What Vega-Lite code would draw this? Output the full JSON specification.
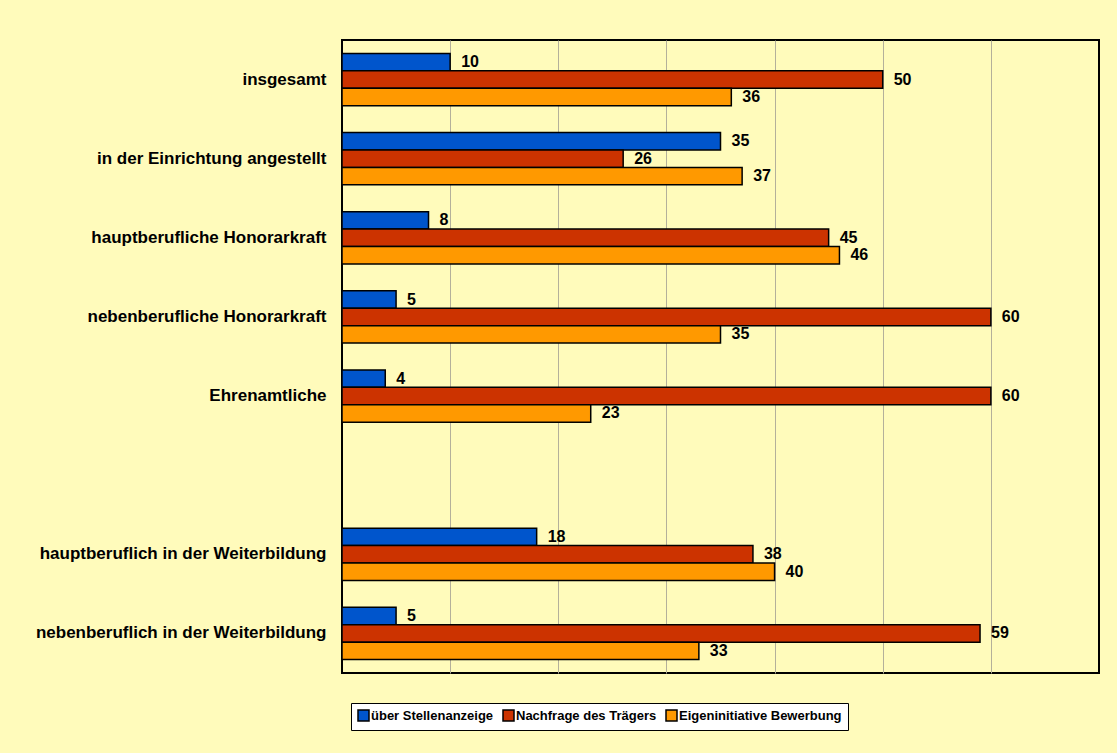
{
  "$schema": "https://vega.github.io/schema/vega-lite/v6.json",
  "width": 757,
  "height": 633,
  "autosize": {"type": "none"},
  "padding": {"left": 342, "top": 40, "right": 18, "bottom": 80},
  "background": "#FFFBBB",
  "data": {
    "values": [
      {"group": "insgesamt", "series": "über Stellenanzeige", "value": 10},
      {"group": "insgesamt", "series": "Nachfrage des Trägers", "value": 50},
      {"group": "insgesamt", "series": "Eigeninitiative Bewerbung", "value": 36},
      {"group": "in der Einrichtung angestellt", "series": "über Stellenanzeige", "value": 35},
      {"group": "in der Einrichtung angestellt", "series": "Nachfrage des Trägers", "value": 26},
      {"group": "in der Einrichtung angestellt", "series": "Eigeninitiative Bewerbung", "value": 37},
      {"group": "hauptberufliche Honorarkraft", "series": "über Stellenanzeige", "value": 8},
      {"group": "hauptberufliche Honorarkraft", "series": "Nachfrage des Trägers", "value": 45},
      {"group": "hauptberufliche Honorarkraft", "series": "Eigeninitiative Bewerbung", "value": 46},
      {"group": "nebenberufliche Honorarkraft", "series": "über Stellenanzeige", "value": 5},
      {"group": "nebenberufliche Honorarkraft", "series": "Nachfrage des Trägers", "value": 60},
      {"group": "nebenberufliche Honorarkraft", "series": "Eigeninitiative Bewerbung", "value": 35},
      {"group": "Ehrenamtliche", "series": "über Stellenanzeige", "value": 4},
      {"group": "Ehrenamtliche", "series": "Nachfrage des Trägers", "value": 60},
      {"group": "Ehrenamtliche", "series": "Eigeninitiative Bewerbung", "value": 23},
      {"group": "hauptberuflich in der Weiterbildung", "series": "über Stellenanzeige", "value": 18},
      {"group": "hauptberuflich in der Weiterbildung", "series": "Nachfrage des Trägers", "value": 38},
      {"group": "hauptberuflich in der Weiterbildung", "series": "Eigeninitiative Bewerbung", "value": 40},
      {"group": "nebenberuflich in der Weiterbildung", "series": "über Stellenanzeige", "value": 5},
      {"group": "nebenberuflich in der Weiterbildung", "series": "Nachfrage des Trägers", "value": 59},
      {"group": "nebenberuflich in der Weiterbildung", "series": "Eigeninitiative Bewerbung", "value": 33}
    ]
  },
  "encoding": {
    "y": {
      "field": "group",
      "type": "nominal",
      "scale": {
        "domain": ["insgesamt", "in der Einrichtung angestellt", "hauptberufliche Honorarkraft", "nebenberufliche Honorarkraft", "Ehrenamtliche", " ", "hauptberuflich in der Weiterbildung", "nebenberuflich in der Weiterbildung"],
        "paddingInner": 0.34,
        "paddingOuter": 0.17
      },
      "axis": {
        "title": null,
        "ticks": false,
        "domain": false,
        "labelFont": "Liberation Sans",
        "labelFontSize": 17,
        "labelFontWeight": "bold",
        "labelColor": "black",
        "labelPadding": 16,
        "labelLimit": 400
      }
    },
    "yOffset": {
      "field": "series",
      "type": "nominal",
      "scale": {"domain": ["über Stellenanzeige", "Nachfrage des Trägers", "Eigeninitiative Bewerbung"]}
    },
    "x": {
      "field": "value",
      "type": "quantitative",
      "scale": {"domain": [0, 70], "nice": false},
      "axis": {
        "title": null,
        "values": [10, 20, 30, 40, 50, 60],
        "labels": false,
        "ticks": false,
        "domain": false,
        "grid": true,
        "gridColor": "#B4B09A",
        "gridWidth": 1
      }
    }
  },
  "layer": [
    {
      "mark": {"type": "bar", "stroke": "black", "strokeWidth": 1.5},
      "encoding": {
        "color": {
          "field": "series",
          "type": "nominal",
          "scale": {
            "domain": ["über Stellenanzeige", "Nachfrage des Trägers", "Eigeninitiative Bewerbung"],
            "range": ["#0055CC", "#CC3300", "#FF9900"]
          },
          "legend": {
            "orient": "none",
            "legendX": 9,
            "legendY": 663,
            "direction": "horizontal",
            "title": null,
            "fillColor": "white",
            "strokeColor": "black",
            "padding": 6,
            "symbolType": "square",
            "symbolSize": 121,
            "symbolStrokeColor": "black",
            "symbolStrokeWidth": 1.5,
            "labelFont": "Liberation Sans",
            "labelFontSize": 13,
            "labelFontWeight": "bold",
            "labelColor": "black",
            "labelOffset": 1,
            "labelLimit": 300,
            "columnPadding": 6
          }
        }
      }
    },
    {
      "mark": {"type": "text", "align": "left", "baseline": "middle", "dx": 11, "font": "Liberation Sans", "fontSize": 16, "fontWeight": "bold", "color": "black"},
      "encoding": {"text": {"field": "value", "type": "quantitative"}}
    }
  ],
  "config": {
    "view": {"stroke": "black", "strokeWidth": 2, "fill": "#FFFBBB"}
  }
}
